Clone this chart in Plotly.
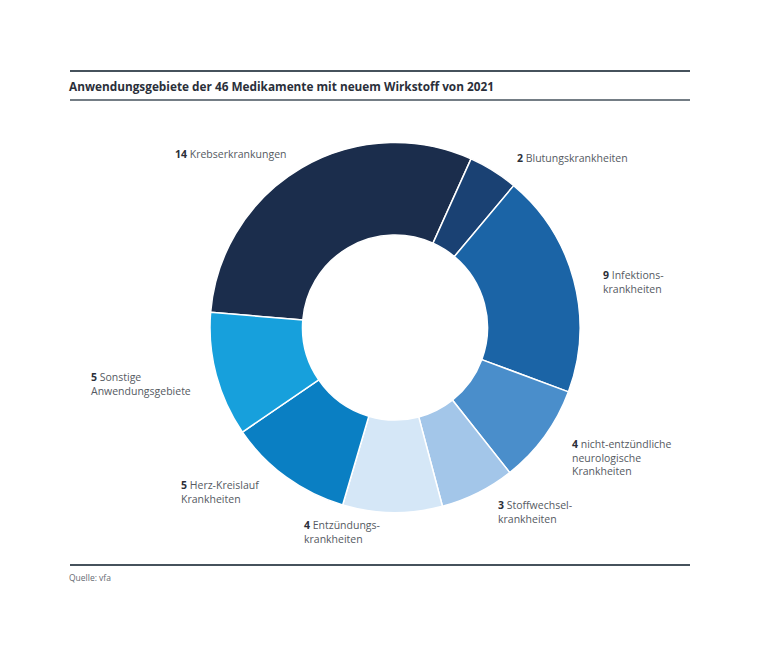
import plotly.graph_objects as go

W, H = 760, 668
OFF = 8  # page body margin of the browser

# ---- data ----
categories = ["Krebserkrankungen", "Blutungskrankheiten", "Infektionskrankheiten",
              "nicht-entzündliche neurologische Krankheiten", "Stoffwechselkrankheiten",
              "Entzündungskrankheiten", "Herz-Kreislauf Krankheiten", "Sonstige Anwendungsgebiete"]
values = [14, 2, 9, 4, 3, 4, 5, 5]
label_texts = ["Krebserkrankungen", "Blutungskrankheiten", "Infektions-<br>krankheiten",
               "nicht-entzündliche<br>neurologische<br>Krankheiten", "Stoffwechsel-<br>krankheiten",
               "Entzündungs-<br>krankheiten", "Herz-Kreislauf<br>Krankheiten",
               "Sonstige<br>Anwendungsgebiete"]
title_text = "Anwendungsgebiete der 46 Medikamente mit neuem Wirkstoff von 2021"
source_text = "Quelle: vfa"

# ---- styles ----
colors = ["#1b2d4c", "#1a4173", "#1b64a6", "#4a8ecb", "#a3c6e9", "#d5e7f7", "#0a7fc3", "#17a0dc"]
label_pos = [(173, 145), (515, 149), (601, 266), (570, 435), (496, 496),
             (302, 516), (179, 476), (89, 368)]  # pixel top-left of each label
FONT = "Open Sans"


def px(x):
    return (x - OFF) / W


def py(y):
    return 1 - (y - OFF) / H


cx, cy, R = 395, 327.5, 185

fig = go.Figure(go.Pie(
    labels=categories, values=values, sort=False, direction="clockwise",
    rotation=-85.3, hole=0.5,
    marker=dict(colors=colors, line=dict(color="white", width=1.5)),
    textinfo="none", hoverinfo="label+value", showlegend=False,
    domain=dict(x=[px(cx - R), px(cx + R)], y=[py(cy + R), py(cy - R)]),
))

ann = []
for v, t, (lx, ly) in zip(values, label_texts, label_pos):
    ann.append(dict(x=px(lx), y=py(ly), xref="paper", yref="paper",
                    xanchor="left", yanchor="top", align="left", showarrow=False,
                    text=f"<b style='color:#2b2f38'>{v}</b> {t}",
                    font=dict(family=FONT, size=10.5, color="#555a62")))
ann.append(dict(x=px(67), y=py(86), xref="paper", yref="paper", xanchor="left",
                yanchor="middle", showarrow=False, text=f"<b>{title_text}</b>",
                font=dict(family=FONT, size=11.8, color="#2a2f3a")))
ann.append(dict(x=px(67), y=py(577), xref="paper", yref="paper", xanchor="left",
                yanchor="middle", showarrow=False, text=source_text,
                font=dict(family=FONT, size=8.5, color="#666b72")))

shapes = []
for yy, lw in [(71, 2), (100, 1.5), (565, 2)]:
    shapes.append(dict(type="line", xref="paper", yref="paper",
                       x0=px(70), x1=px(690), y0=py(yy), y1=py(yy),
                       line=dict(color="#46525c", width=lw)))

fig.update_layout(width=W, height=H, margin=dict(l=0, r=0, t=0, b=0),
                  paper_bgcolor="white", plot_bgcolor="white",
                  annotations=ann, shapes=shapes)
fig.write_html("out.html")
